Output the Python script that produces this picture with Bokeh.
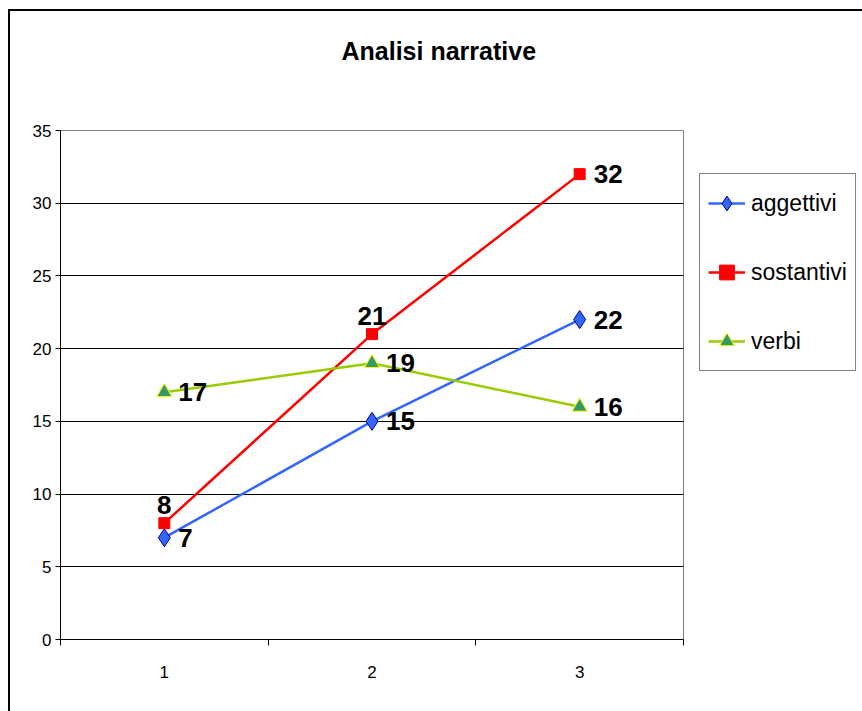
from bokeh.plotting import figure
from bokeh.models import FixedTicker, Legend, LegendItem, Title
from bokeh.core.properties import value
from bokeh.embed import file_html
from bokeh.resources import INLINE

# ---- data ----
categories = [1, 2, 3]
aggettivi = [7, 15, 22]
sostantivi = [8, 21, 32]
verbi = [17, 19, 16]
y_ticks = [0, 5, 10, 15, 20, 25, 30, 35]
x_boundaries = [0.5, 1.5, 2.5, 3.5]
title_text = "Analisi narrative"

# label placement for each point
aggettivi_pos = ["right", "right", "right"]
sostantivi_pos = ["above", "above", "right"]
verbi_pos = ["right", "right", "right"]

FONT = "Liberation Sans"

p = figure(frame_width=623, frame_height=509, x_range=(0.5, 3.5), y_range=(0, 35),
           output_backend="svg", toolbar_location=None, title=None,
           min_border_left=50, min_border_right=179,
           min_border_top=119, min_border_bottom=72)
p.styles = {"border-left": "2px solid black", "border-top": "2px solid black",
            "margin-left": "8px", "margin-top": "9px"}

p.outline_line_color = "#808080"
p.outline_line_width = 1

# spacer between title and plot area, then the title itself
p.add_layout(Title(text=" ", text_font_size="44px"), "above")
p.add_layout(Title(text=title_text, align="left", offset=281,
                   text_font=FONT, text_font_size="25px", text_font_style="bold",
                   text_color="black"), "above")

# y axis
p.yaxis.ticker = FixedTicker(ticks=y_ticks)
p.yaxis.major_tick_out = 5
p.yaxis.major_tick_in = 0
p.yaxis.minor_tick_out = 0
p.yaxis.minor_tick_in = 0
p.yaxis.axis_line_color = "black"
p.yaxis.major_tick_line_color = "black"
p.yaxis.major_label_text_font = FONT
p.yaxis.major_label_text_font_size = "17px"
p.yaxis.major_label_text_color = "black"
p.yaxis.major_label_standoff = 4

# x axis
p.xaxis.ticker = FixedTicker(ticks=categories, minor_ticks=x_boundaries)
p.xaxis.major_tick_out = 0
p.xaxis.major_tick_in = 0
p.xaxis.minor_tick_out = 6
p.xaxis.minor_tick_in = 0
p.xaxis.minor_tick_line_color = "black"
p.xaxis.axis_line_color = "black"
p.xaxis.major_label_text_font = FONT
p.xaxis.major_label_text_font_size = "17px"
p.xaxis.major_label_text_color = "black"
p.xaxis.major_label_standoff = 20

p.xgrid.visible = False
p.ygrid.ticker = FixedTicker(ticks=y_ticks)
p.ygrid.grid_line_color = "black"
p.ygrid.grid_line_alpha = 1
p.ygrid.grid_line_width = 1

series = [
    ("aggettivi", aggettivi, aggettivi_pos, "#3366FF", "diamond", 18, "#3366FF", "#000080"),
    ("sostantivi", sostantivi, sostantivi_pos, "#FF0000", "square", 11, "#FF0000", "#FF0000"),
    ("verbi", verbi, verbi_pos, "#99CC00", "triangle", 15, "#339966", "#FFFF00"),
]

items = []
for name, vals, pos, lc, marker, size, fc, oc in series:
    ln = p.line(categories, vals, line_color=lc, line_width=2.5)
    sc = p.scatter(categories, vals, marker=marker, size=size, fill_color=fc,
                   line_color=oc, line_width=1)
    items.append(LegendItem(label=name, renderers=[ln, sc]))
    rx = [c for c, q in zip(categories, pos) if q == "right"]
    ry = [v for v, q in zip(vals, pos) if q == "right"]
    ax = [c for c, q in zip(categories, pos) if q == "above"]
    ay = [v for v, q in zip(vals, pos) if q == "above"]
    if rx:
        p.text(rx, ry, text=[str(v) for v in ry], x_offset=14, y_offset=0,
               text_align="left", text_baseline="middle",
               text_font=value(FONT), text_font_size="26px",
               text_font_style="bold", text_color="black")
    if ax:
        p.text(ax, ay, text=[str(v) for v in ay], x_offset=0, y_offset=-18,
               text_align="center", text_baseline="middle",
               text_font=value(FONT), text_font_size="26px",
               text_font_style="bold", text_color="black")

legend = Legend(items=items, location=(16, 268), margin=0,
                border_line_color="black", border_line_width=1,
                label_text_font=FONT, label_text_font_size="23px",
                label_text_color="black",
                glyph_width=37, glyph_height=42, label_height=42,
                label_standoff=6, spacing=27, padding=8,
                background_fill_alpha=1)
p.add_layout(legend, "right")

open("out.html", "w").write(file_html(p, INLINE))
